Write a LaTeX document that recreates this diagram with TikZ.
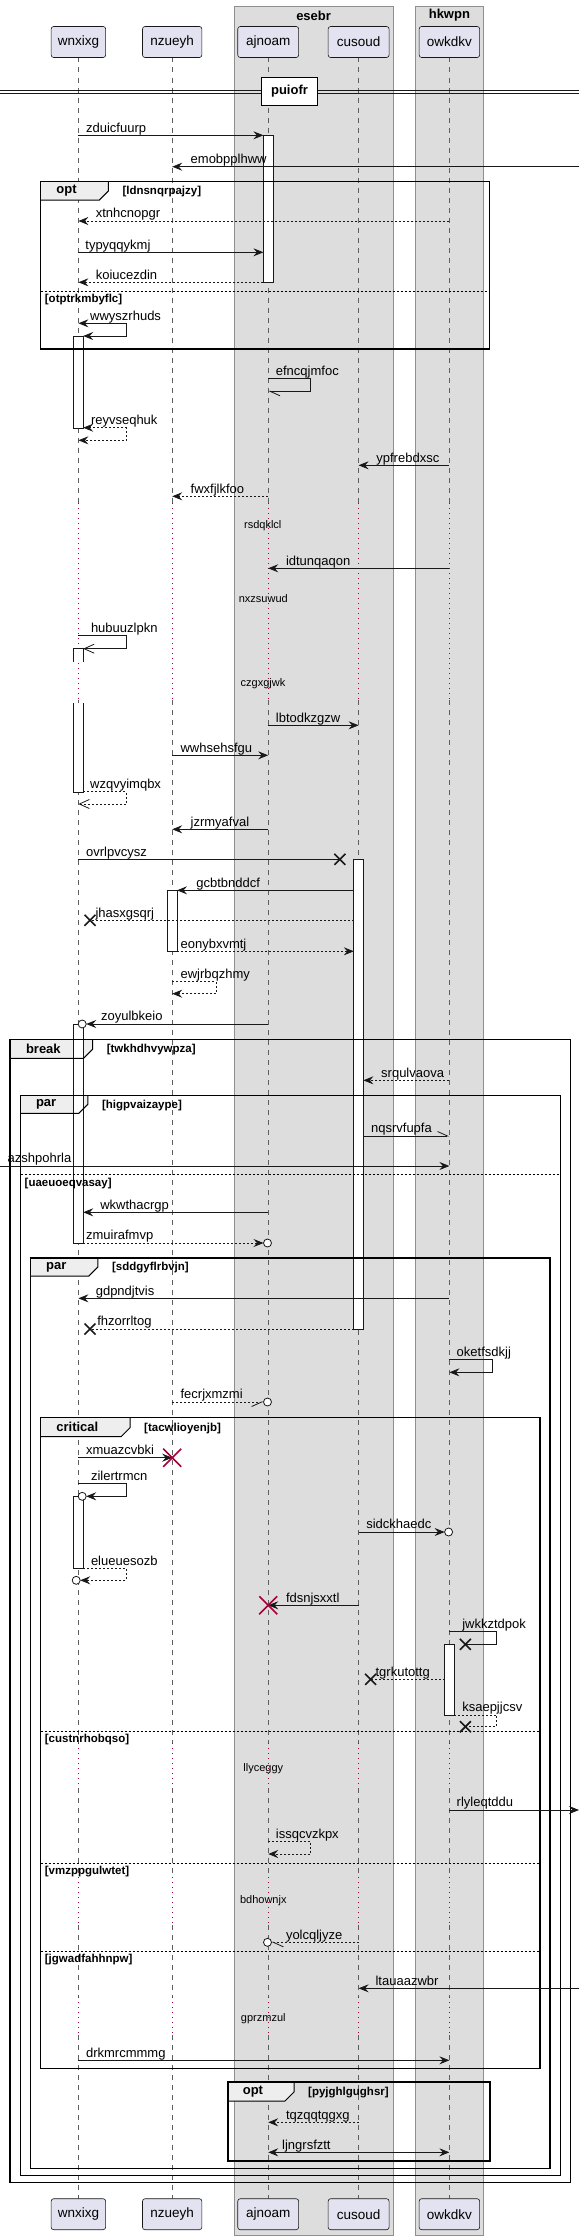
\documentclass[tikz,border=0pt]{standalone}
\usepackage{fontspec}
\setmainfont{Liberation Sans}
\usetikzlibrary{arrows.meta}

\definecolor{partfill}{HTML}{E2E2F0}
\definecolor{ink}{HTML}{181818}
\definecolor{boxfill}{HTML}{DDDDDD}
\definecolor{boxline}{HTML}{8F8F8F}
\definecolor{tabfill}{HTML}{EEEEEE}
\definecolor{delayred}{HTML}{A80036}
\definecolor{lifegray}{HTML}{5E5E5E}

\pgfdeclarelayer{back}
\pgfdeclarelayer{tabs}
\pgfdeclarelayer{bars}
\pgfsetlayers{back,tabs,bars,main}

\tikzset{
  arr/.tip={Stealth[length=10pt,width=8pt,inset=3.5pt]},
  opn/.tip={Straight Barb[length=10pt,width=9pt]},
  harpl/.tip={Straight Barb[harpoon,length=10pt,width=9pt]},
  harpr/.tip={Straight Barb[harpoon,swap,length=10pt,width=9pt]},
}

% frame: name, x0, y0, x1, y1, tab right, tab bottom, title, guard
\newcommand\sdframe[9]{%
  \begin{pgfonlayer}{tabs}
    \fill[tabfill] (#2,#3) -- (#6,#3) -- (#6,#7-9) -- (#6-9,#7) -- (#2,#7) -- cycle;
  \end{pgfonlayer}
  \draw[frameline] (#2,#3) rectangle (#4,#5);
  \draw[tabline] (#6,#3) -- (#6,#7-9) -- (#6-9,#7) -- (#2,#7);
  \node[frametitle] (#1) at ({(#2+#6)/2-8},{(#3+#7)/2}) {#8};
  \node[guard] (#1-guard) at (#6+14,{(#3+#7)/2+1}) {[#9]};
}
% else line: name, x0, x1, y, guard
\newcommand\sdelse[5]{%
  \draw[elseline] (#2,#4) -- (#3,#4);
  \node[guard] (#1) at (#2+4,#4+8.5) {[#5]};
}
% activation: lifeline, from, to
\newcommand\actbar[3]{%
  \begin{pgfonlayer}{bars}
    \draw[barbox] ([xshift=-4.8pt]#1 |- 0,#2) rectangle ([xshift=4.8pt]#1 |- 0,#3);
  \end{pgfonlayer}}
\newcommand\lostx[2]{\draw[xmark] (#1-5.5,#2-5.5) -- (#1+5.5,#2+5.5) (#1-5.5,#2+5.5) -- (#1+5.5,#2-5.5);}
\newcommand\killx[2]{\draw[killmark] (#1-9,#2-9) -- (#1+9,#2+9) (#1-9,#2+9) -- (#1+9,#2-9);}
\newcommand\ringend[2]{\draw[msg, fill=white] (#1,#2) circle (4pt);}

\begin{document}
\begin{tikzpicture}[x=1pt, y=-1pt,
  participant/.style={draw=ink, fill=partfill, rounded corners=2.5pt, line width=0.6pt,
    minimum height=31pt, inner xsep=2pt, font=\fontsize{13.5}{16}\selectfont},
  grouptitle/.style={inner sep=0pt, font=\bfseries\fontsize{13}{15}\selectfont},
  grpbox/.style={fill=boxfill, draw=boxline, line width=0.6pt},
  life/.style={lifegray, line width=0.6pt, dash pattern=on 5pt off 5pt},
  delayline/.style={delayred, line width=0.8pt, dash pattern=on 0.8pt off 4.2pt},
  barbox/.style={draw=ink, fill=white, line width=0.8pt},
  barline/.style={ink, line width=0.8pt},
  msg/.style={ink, line width=0.8pt},
  ret/.style={msg, dash pattern=on 2pt off 2pt},
  lbl/.style={anchor=base west, inner sep=0pt, yshift=3.3pt, font=\fontsize{13}{15}\selectfont},
  delaytxt/.style={inner sep=0pt, font=\fontsize{11}{13}\selectfont},
  frameline/.style={black, line width=1.5pt},
  tabline/.style={black, line width=1pt},
  frametitle/.style={inner sep=0pt, font=\bfseries\fontsize{13}{15}\selectfont},
  guard/.style={anchor=west, inner sep=0pt, font=\bfseries\fontsize{11.5}{13}\selectfont},
  elseline/.style={black, line width=0.8pt, dash pattern=on 2pt off 2pt},
  divider/.style={draw=black, line width=1.5pt, fill=white, minimum width=56pt,
    minimum height=27.6pt, inner sep=0pt, font=\bfseries\fontsize{13}{15}\selectfont},
  xmark/.style={ink, line width=1.6pt},
  killmark/.style={delayred, line width=1.6pt}]

\useasboundingbox (0,0) rectangle (579,2240);

% participants
\node[participant, minimum width=54.5pt] (wnxixg) at (78.4,42) {wnxixg};
\node[participant, minimum width=59.4pt] (nzueyh) at (172.2,42) {nzueyh};
\node[participant, minimum width=60.9pt] (ajnoam) at (268.2,42) {ajnoam};
\node[participant, minimum width=60.9pt] (cusoud) at (358.6,42) {cusoud};
\node[participant, minimum width=60.5pt] (owkdkv) at (449.4,42) {owkdkv};
\node[participant, minimum width=54.5pt] (wnxixg-b) at (78.4,2214.2) {wnxixg};
\node[participant, minimum width=59.4pt] (nzueyh-b) at (172.2,2214.2) {nzueyh};
\node[participant, minimum width=60.9pt] (ajnoam-b) at (268.2,2214.2) {ajnoam};
\node[participant, minimum width=60.9pt] (cusoud-b) at (358.6,2214.2) {cusoud};
\node[participant, minimum width=60.5pt] (owkdkv-b) at (449.4,2214.2) {owkdkv};
\node[grouptitle] (esebr) at (313.6,15.5) {esebr};
\node[grouptitle] (hkwpn) at (449.4,15.5) {hkwpn};

\begin{pgfonlayer}{back}
  \draw[grpbox] (234.2,6) rectangle (393,2235.3);
  \draw[grpbox] (415,6) rectangle (483.7,2235.3);
  \foreach \p in {wnxixg,nzueyh,ajnoam,cusoud,owkdkv}{
    \foreach \a/\b in {57.5/503,700/1743,1788/1877,1925/1997,2035/2198.7}
      \draw[life] (\p |- 0,\a) -- (\p |- 0,\b);
    \foreach \a/\b in {503/700,1743/1788,1877/1925,1997/2035}
      \draw[delayline] (\p |- 0,\a) -- (\p |- 0,\b);
  }
\end{pgfonlayer}

% activations
\actbar{ajnoam}{135.3}{282.3}
\actbar{wnxixg}{336}{428.3}
\begin{pgfonlayer}{bars}
  \fill[white] ([xshift=-4.8pt]wnxixg |- 0,648.7) rectangle ([xshift=4.8pt]wnxixg |- 0,661.7);
  \draw[barline] ([xshift=-4.8pt]wnxixg |- 0,661.7) -- ([xshift=-4.8pt]wnxixg |- 0,648.7)
    -- ([xshift=4.8pt]wnxixg |- 0,648.7) -- ([xshift=4.8pt]wnxixg |- 0,661.7);
  \fill[white] ([xshift=-4.8pt]wnxixg |- 0,703.3) rectangle ([xshift=4.8pt]wnxixg |- 0,792.3);
  \draw[barline] ([xshift=-4.8pt]wnxixg |- 0,703.3) -- ([xshift=-4.8pt]wnxixg |- 0,792.3)
    -- ([xshift=4.8pt]wnxixg |- 0,792.3) -- ([xshift=4.8pt]wnxixg |- 0,703.3);
\end{pgfonlayer}
\actbar{cusoud}{859.3}{1329}
\actbar{nzueyh}{890.3}{951.3}
\actbar{wnxixg}{1024}{1243}
\actbar{wnxixg}{1496.3}{1568.3}
\actbar{owkdkv}{1644.3}{1715}

% divider
\draw[ink, line width=0.8pt] (0,90) -- (579,90) (0,93.7) -- (579,93.7);
\node[divider] (puiofr) at (289.5,91.5) {puiofr};

% frames
\sdframe{opta}{40.7}{181.7}{489.7}{349}{108.3}{200}{opt}{ldnsnqrpajzy}
\sdelse{optaelse}{40.7}{489.7}{291}{otptrkmbyflc}
\sdframe{brk}{10.1}{1039.3}{570.4}{2182.3}{92.6}{1058.3}{break}{twkhdhvywpza}
\sdframe{para}{20.5}{1095.3}{560.3}{2175.3}{87.8}{1113.3}{par}{higpvaizaype}
\sdelse{paraelse}{20.5}{560.3}{1174.7}{uaeuoeqvasay}
\sdframe{parb}{30.6}{1258}{550.2}{2168.7}{97.9}{1276}{par}{sddgyflrbvjn}
\sdframe{crit}{40.7}{1417.7}{540.2}{2068.3}{130}{1436.7}{critical}{tacwlioyenjb}
\sdelse{critelsea}{40.7}{540.2}{1731}{custnrhobqso}
\sdelse{critelseb}{40.7}{540.2}{1863.3}{vmzppgulwtet}
\sdelse{critelsec}{40.7}{540.2}{1951.3}{jgwadfahhnpw}
\sdframe{optb}{227.9}{2082}{490.1}{2161}{294}{2101}{opt}{pyjghlgughsr}

% messages
\draw[msg,-arr] (wnxixg |- 0,135.3) -- ([xshift=-4.8pt]ajnoam |- 0,135.3);
\node[lbl] (zduicfuurp) at (85.9,135.3) {zduicfuurp};
\draw[msg,-arr] (579,166.7) -- (nzueyh |- 0,166.7);
\node[lbl] (emobpplhww) at (190.5,166.7) {emobpplhww};
\draw[ret,-arr] (owkdkv |- 0,221) -- (wnxixg |- 0,221);
\node[lbl] (xtnhcnopgr) at (95.6,221) {xtnhcnopgr};
\draw[msg,-arr] (wnxixg |- 0,252.3) -- ([xshift=-4.8pt]ajnoam |- 0,252.3);
\node[lbl] (typyqqykmj) at (85.2,252.3) {typyqqykmj};
\draw[ret,-arr] ([xshift=-4.8pt]ajnoam |- 0,282.3) -- (wnxixg |- 0,282.3);
\node[lbl] (koiucezdin) at (95.6,282.3) {koiucezdin};
\draw[msg,arr-arr] (wnxixg |- 0,323.3) -- (126.3,323.3) -- (126.3,336) -- ([xshift=4.8pt]wnxixg |- 0,336);
\node[lbl] (wwyszrhuds) at (90,323.3) {wwyszrhuds};
\draw[msg,-harpl] (ajnoam |- 0,378.7) -- (310.8,378.7) -- (310.8,391.3) -- (ajnoam |- 0,391.3);
\node[lbl] (efncqjmfoc) at (275.7,378.7) {efncqjmfoc};
\draw[ret,arr-arr] ([xshift=4.8pt]wnxixg |- 0,427.7) -- (126.3,427.7) -- (126.3,440.3) -- (wnxixg |- 0,440.3);
\node[lbl] (reyvseqhuk) at (90.8,427.7) {reyvseqhuk};
\draw[msg,-arr] (owkdkv |- 0,465.3) -- (cusoud |- 0,465.3);
\node[lbl] (ypfrebdxsc) at (376.2,465.3) {ypfrebdxsc};
\draw[ret,-arr] (ajnoam |- 0,496.3) -- (nzueyh |- 0,496.3);
\node[lbl] (fwxfjlkfoo) at (190.5,496.3) {fwxfjlkfoo};
\node[delaytxt] (rsdqklcl) at (262.8,525.7) {rsdqklcl};
\draw[msg,-arr] (owkdkv |- 0,568.3) -- (ajnoam |- 0,568.3);
\node[lbl] (idtunqaqon) at (285.8,568.3) {idtunqaqon};
\node[delaytxt] (nxzsuwud) at (263.3,598.3) {nxzsuwud};
\draw[msg,-opn] (wnxixg |- 0,635.7) -- (126.3,635.7) -- (126.3,648.7) -- ([xshift=4.8pt]wnxixg |- 0,648.7);
\node[lbl] (hubuuzlpkn) at (90.8,635.7) {hubuuzlpkn};
\node[delaytxt] (czgxgjwk) at (263,683.7) {czgxgjwk};
\draw[msg,-arr] (ajnoam |- 0,725.3) -- (cusoud |- 0,725.3);
\node[lbl] (lbtodkzgzw) at (275.7,725.3) {lbtodkzgzw};
\draw[msg,-arr] (nzueyh |- 0,755.3) -- (ajnoam |- 0,755.3);
\node[lbl] (wwhsehsfgu) at (180.4,755.3) {wwhsehsfgu};
\draw[ret,-opn] ([xshift=4.8pt]wnxixg |- 0,791.7) -- (126.3,791.7) -- (126.3,804) -- (wnxixg |- 0,804);
\node[lbl] (wzqvyimqbx) at (90,791.7) {wzqvyimqbx};
\draw[msg,-arr] (ajnoam |- 0,829.3) -- (nzueyh |- 0,829.3);
\node[lbl] (jzrmyafval) at (190.5,829.3) {jzrmyafval};
\draw[msg] (wnxixg |- 0,859.3) -- (339.9,859.3);
\lostx{339.9}{859.3}
\node[lbl] (ovrlpvcysz) at (85.9,859.3) {ovrlpvcysz};
\draw[msg,-arr] ([xshift=-4.8pt]cusoud |- 0,890.3) -- ([xshift=4.8pt]nzueyh |- 0,890.3);
\node[lbl] (gcbtbnddcf) at (196.1,890.3) {gcbtbnddcf};
\draw[ret] ([xshift=-4.8pt]cusoud |- 0,920.3) -- (90,920.3);
\lostx{90}{920.3}
\node[lbl] (jhasxgsqrj) at (95.3,920.3) {jhasxgsqrj};
\draw[ret,-arr] ([xshift=4.8pt]nzueyh |- 0,951.3) -- ([xshift=-4.8pt]cusoud |- 0,951.3);
\node[lbl] (eonybxvmtj) at (180.4,951.3) {eonybxvmtj};
\draw[ret,-arr] (nzueyh |- 0,981.7) -- (215.9,981.7) -- (215.9,993.7) -- (nzueyh |- 0,993.7);
\node[lbl] (ewjrbqzhmy) at (180.4,981.7) {ewjrbqzhmy};
\draw[msg,-arr] (ajnoam |- 0,1024) -- (86.2,1024);
\ringend{82.2}{1024}
\node[lbl] (zoyulbkeio) at (100.9,1024) {zoyulbkeio};
\draw[ret,-arr] (owkdkv |- 0,1080.3) -- ([xshift=4.8pt]cusoud |- 0,1080.3);
\node[lbl] (srqulvaova) at (381,1080.3) {srqulvaova};
\draw[msg,-harpl] ([xshift=4.8pt]cusoud |- 0,1136) -- (owkdkv |- 0,1136);
\node[lbl] (nqsrvfupfa) at (370.9,1136) {nqsrvfupfa};
\draw[msg,-arr] (0,1166) -- (owkdkv |- 0,1166);
\node[lbl] (azshpohrla) at (7.5,1166) {azshpohrla};
\draw[msg,-arr] (ajnoam |- 0,1212.3) -- ([xshift=4.8pt]wnxixg |- 0,1212.3);
\node[lbl] (wkwthacrgp) at (100.1,1212.3) {wkwthacrgp};
\draw[ret,-arr] ([xshift=4.8pt]wnxixg |- 0,1243) -- (263.5,1243);
\ringend{267.5}{1243}
\node[lbl] (zmuirafmvp) at (85.9,1243) {zmuirafmvp};
\draw[msg,-arr] (owkdkv |- 0,1298.3) -- (wnxixg |- 0,1298.3);
\node[lbl] (gdpndjtvis) at (95.6,1298.3) {gdpndjtvis};
\draw[ret] ([xshift=-4.8pt]cusoud |- 0,1329) -- (90,1329);
\lostx{90}{1329}
\node[lbl] (fhzorrltog) at (97.1,1329) {fhzorrltog};
\draw[msg,-arr] (owkdkv |- 0,1359.3) -- (492.3,1359.3) -- (492.3,1372.3) -- (owkdkv |- 0,1372.3);
\node[lbl] (oketfsdkjj) at (456.5,1359.3) {oketfsdkjj};
\draw[ret,-harpr] (nzueyh |- 0,1402) -- (263.5,1402);
\ringend{267.5}{1402}
\node[lbl] (fecrjxmzmi) at (180.4,1402) {fecrjxmzmi};
\draw[msg,-arr] (wnxixg |- 0,1457.7) -- (nzueyh |- 0,1457.7);
\killx{172.2}{1457.7}
\node[lbl] (xmuazcvbki) at (85.9,1457.7) {xmuazcvbki};
\draw[msg,-arr] (wnxixg |- 0,1483.7) -- (126.3,1483.7) -- (126.3,1496.3) -- (86.2,1496.3);
\ringend{82.2}{1496.3}
\node[lbl] (zilertrmcn) at (90.8,1483.7) {zilertrmcn};
\draw[msg,-arr] (cusoud |- 0,1532) -- (444.6,1532);
\ringend{448.6}{1532}
\node[lbl] (sidckhaedc) at (366.1,1532) {sidckhaedc};
\draw[ret,-arr] ([xshift=4.8pt]wnxixg |- 0,1568.3) -- (126.3,1568.3) -- (126.3,1580.3) -- (80.2,1580.3);
\ringend{76.2}{1580.3}
\node[lbl] (elueuesozb) at (90.8,1568.3) {elueuesozb};
\draw[msg,-arr] (cusoud |- 0,1605.3) -- (ajnoam |- 0,1605.3);
\killx{268.2}{1605.3}
\node[lbl] (fdsnjsxxtl) at (285.8,1605.3) {fdsnjsxxtl};
\draw[msg] (owkdkv |- 0,1631.3) -- (496.8,1631.3) -- (496.8,1644.3) -- (465.4,1644.3);
\lostx{465.4}{1644.3}
\node[lbl] (jwkkztdpok) at (462.1,1631.3) {jwkkztdpok};
\draw[ret] ([xshift=-4.8pt]owkdkv |- 0,1679.3) -- (370.6,1679.3);
\lostx{370.6}{1679.3}
\node[lbl] (tgrkutottg) at (375.4,1679.3) {tgrkutottg};
\draw[ret] ([xshift=4.8pt]owkdkv |- 0,1715) -- (496.8,1715) -- (496.8,1726.7) -- (465.4,1726.7);
\lostx{465.4}{1726.7}
\node[lbl] (ksaepjjcsv) at (462.1,1715) {ksaepjjcsv};
\node[delaytxt] (llyceggy) at (263.3,1768.7) {llyceggy};
\draw[msg,-arr] (owkdkv |- 0,1810) -- (579,1810);
\node[lbl] (rlyleqtddu) at (456.5,1810) {rlyleqtddu};
\draw[ret,-arr] (ajnoam |- 0,1841.3) -- (310.8,1841.3) -- (310.8,1854) -- (ajnoam |- 0,1854);
\node[lbl] (issqcvzkpx) at (275.7,1841.3) {issqcvzkpx};
\node[delaytxt] (bdhownjx) at (263.3,1900.7) {bdhownjx};
\draw[ret,-harpl] (cusoud |- 0,1942.3) -- (271.5,1942.3);
\ringend{267.5}{1942.3}
\node[lbl] (yolcqljyze) at (285.8,1942.3) {yolcqljyze};
\draw[msg,-arr] (579,1988.3) -- (cusoud |- 0,1988.3);
\node[lbl] (ltauaazwbr) at (375.4,1988.3) {ltauaazwbr};
\node[delaytxt] (gprzmzul) at (263.3,2018.3) {gprzmzul};
\draw[msg,-arr] (wnxixg |- 0,2060.3) -- (owkdkv |- 0,2060.3);
\node[lbl] (drkmrcmmmg) at (85.9,2060.3) {drkmrcmmmg};
\draw[ret,-arr] (cusoud |- 0,2122.3) -- (ajnoam |- 0,2122.3);
\node[lbl] (tqzqqtqgxg) at (285.8,2122.3) {tqzqqtqgxg};
\draw[msg,arr-arr] (ajnoam |- 0,2152.3) -- (owkdkv |- 0,2152.3);
\node[lbl] (ljngrsfztt) at (282,2152.3) {ljngrsfztt};
\end{tikzpicture}
\end{document}
